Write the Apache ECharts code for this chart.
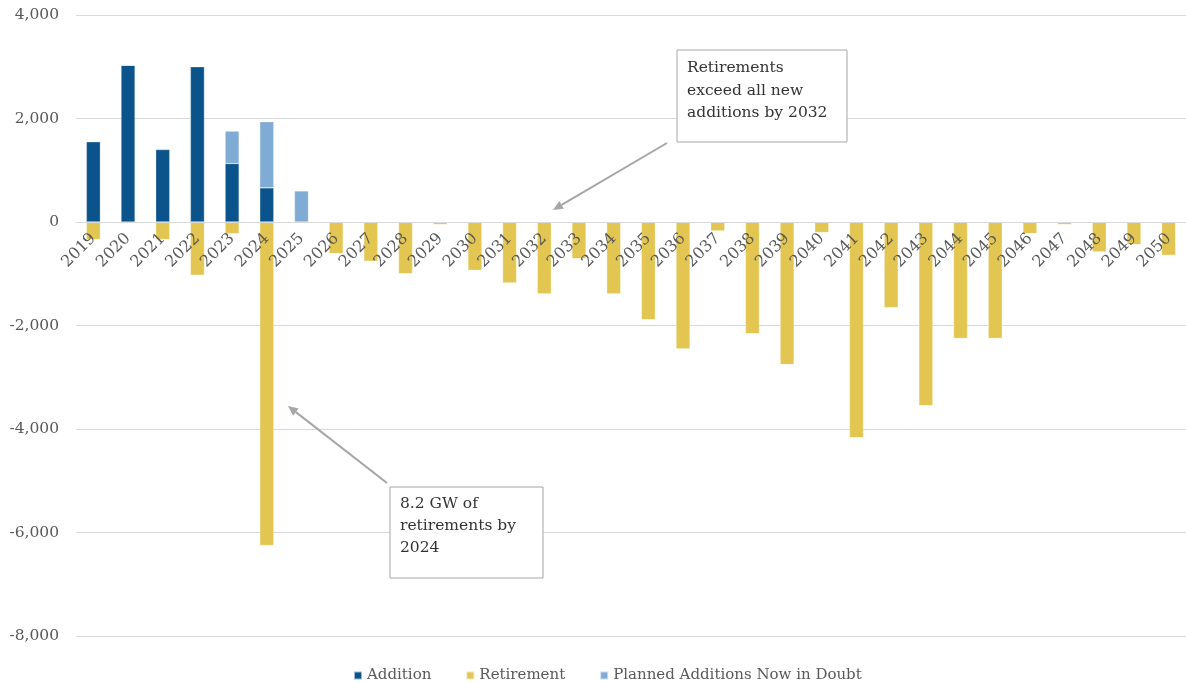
<!DOCTYPE html>
<html>
<head>
<meta charset="utf-8">
<script src="https://cdn.jsdelivr.net/npm/echarts@6/dist/echarts.min.js"></script>
<style>
html,body{margin:0;padding:0;background:#fff;}
#chart{width:1186px;height:683px;}
</style>
</head>
<body>
<div id="chart"></div>
<script>
const years = ['2019','2020','2021','2022','2023','2024','2025','2026','2027','2028','2029','2030','2031','2032','2033','2034','2035','2036','2037','2038','2039','2040','2041','2042','2043','2044','2045','2046','2047','2048','2049','2050'];
const addition = [1550,3030,1400,3000,1130,660,0,0,0,0,0,0,0,0,0,0,0,0,0,0,0,0,0,0,0,0,0,0,0,0,0,0];
const retirement = [-340,0,-340,-1030,-225,-6250,0,-610,-760,-1000,-50,-935,-1180,-1390,-710,-1390,-1890,-2455,-175,-2160,-2755,-205,-4170,-1655,-3550,-2250,-2250,-225,-50,-580,-440,-645];
const planned = [0,0,0,0,626,1278,600,0,0,0,0,0,0,0,0,0,0,0,0,0,0,0,0,0,0,0,0,0,0,0,0,0];
const yTicks = {min:-8000, max:4000, interval:2000};

const FONT = '"DejaVu Serif", serif';
const GRID_TOP = 15, GRID_H = 621;
// distance from the grid bottom up to the zero line
const zeroFromBottom = GRID_H * (0 - yTicks.min) / (yTicks.max - yTicks.min);

const chart = echarts.init(document.getElementById('chart'), null, {renderer:'canvas'});

function arrow(x1,y1,x2,y2){
  const ang = Math.atan2(y2-y1, x2-x1);
  const L = 10, W = 4.5;
  const bx = x2 - L*Math.cos(ang), by = y2 - L*Math.sin(ang);
  const px = -Math.sin(ang)*W, py = Math.cos(ang)*W;
  return [
    {type:'line', shape:{x1:x1,y1:y1,x2:bx,y2:by}, style:{stroke:'#a6a6a6', lineWidth:2}, z:100},
    {type:'polygon', shape:{points:[[x2,y2],[bx+px,by+py],[bx-px,by-py]]}, style:{fill:'#a6a6a6'}, z:100}
  ];
}

const graphics = [
  {type:'rect', shape:{x:677, y:50, width:170, height:92}, style:{fill:'#fff', stroke:'#a6a6a6', lineWidth:1}, z:100},
  {type:'text', x:687, y:57, style:{text:'Retirements\nexceed all new\nadditions by 2032', font:'15.5px ' + FONT, fill:'#333', lineHeight:22.5}, z:101},
  {type:'rect', shape:{x:390, y:487, width:153, height:91}, style:{fill:'#fff', stroke:'#a6a6a6', lineWidth:1}, z:100},
  {type:'text', x:400, y:493, style:{text:'8.2 GW of\nretirements by\n2024', font:'15.5px ' + FONT, fill:'#333', lineHeight:22}, z:101}
].concat(arrow(667,143,553,210)).concat(arrow(387,483,288,406));

chart.setOption({
  animation:false,
  backgroundColor:'#fff',
  grid:{left:76, top:GRID_TOP, width:1120, height:GRID_H, containLabel:false},
  legend:{
    left:348, top:663, itemWidth:8, itemHeight:8, itemGap:34, icon:'rect',
    textStyle:{fontFamily:FONT, fontSize:15, color:'#595959'},
    data:['Addition','Retirement','Planned Additions Now in Doubt']
  },
  xAxis:{
    type:'category', data:years, position:'bottom', z:10,
    offset: -zeroFromBottom,
    axisLine:{onZero:false, lineStyle:{color:'#d9d9d9', width:1}},
    axisTick:{show:false},
    axisLabel:{rotate:45, margin:14, interval:0, fontFamily:FONT, fontSize:16, color:'#595959'}
  },
  yAxis:{
    type:'value', min:yTicks.min, max:yTicks.max, interval:yTicks.interval,
    axisLine:{show:false}, axisTick:{show:false},
    splitLine:{lineStyle:{color:'#d9d9d9', width:1}},
    axisLabel:{margin:17, fontFamily:FONT, fontSize:15.5, color:'#595959',
      formatter:function(v){return v.toLocaleString('en-US');}}
  },
  series:[
    {name:'Addition', type:'bar', stack:'t', barWidth:14, data:addition,
     itemStyle:{color:'#0b548b', borderColor:'rgba(255,255,255,0.6)', borderWidth:0.5}},
    {name:'Retirement', type:'bar', stack:'t', barWidth:14, data:retirement,
     itemStyle:{color:'#e3c651', borderColor:'rgba(255,255,255,0.6)', borderWidth:0.5}},
    {name:'Planned Additions Now in Doubt', type:'bar', stack:'t', barWidth:14, data:planned,
     itemStyle:{color:'#80abd5', borderColor:'rgba(255,255,255,0.6)', borderWidth:0.5}}
  ],
  graphic:graphics
});
</script>
</body>
</html>
